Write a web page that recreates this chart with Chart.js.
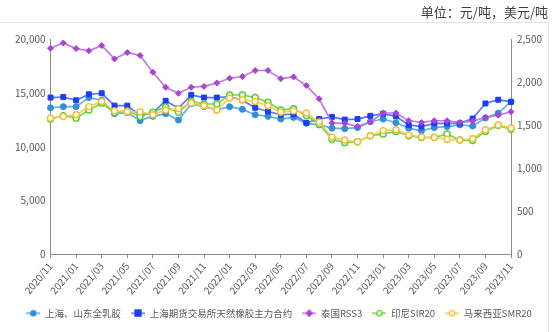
<!DOCTYPE html>
<html>
<head>
<meta charset="utf-8">
<script src="https://cdn.jsdelivr.net/npm/chart.js@4/dist/chart.umd.min.js"></script>
<style>
  html, body { margin: 0; padding: 0; background: #fff; }
  #wrap { width: 554px; height: 332px; }
</style>
</head>
<body>
<div id="wrap"><canvas id="c" width="554" height="332"></canvas></div>
<script>
// Months, 2020/11 .. 2023/11
const months = [
  '2020/11','2020/12','2021/01','2021/02','2021/03','2021/04','2021/05','2021/06','2021/07','2021/08','2021/09','2021/10',
  '2021/11','2021/12','2022/01','2022/02','2022/03','2022/04','2022/05','2022/06','2022/07','2022/08','2022/09','2022/10',
  '2022/11','2022/12','2023/01','2023/02','2023/03','2023/04','2023/05','2023/06','2023/07','2023/08','2023/09','2023/10',
  '2023/11'
];

// Domestic prices, CNY/t (left axis)
const shQuanru = [13650,13750,13750,14600,14350,13100,13200,12450,12850,13100,12500,14000,
                  13750,13450,13750,13500,13000,12850,12600,12750,12200,12050,11750,11700,
                  11800,12350,12600,12250,11750,11500,11800,11900,12050,11950,12700,13150,14200];
const shfeMain = [14600,14650,14350,14900,15000,13850,13850,12950,13200,14300,13600,14850,
                  14600,14600,14700,14350,13650,13300,13000,13050,12250,12600,12800,12550,
                  12600,12900,13100,12850,12050,11900,12200,12200,12200,12650,14050,14400,14200];

// Overseas prices, USD/t (right axis)
const thaiRSS3 = [2400,2460,2395,2370,2430,2275,2350,2315,2120,1945,1875,1945,
                  1955,1995,2050,2070,2140,2140,2045,2065,1965,1810,1530,1525,
                  1490,1540,1645,1645,1555,1535,1555,1555,1535,1550,1595,1620,1660];
const indoSIR20 = [1575,1615,1585,1680,1760,1650,1670,1605,1655,1715,1655,1780,
                   1750,1750,1855,1855,1825,1770,1680,1695,1615,1515,1340,1300,
                   1310,1380,1400,1430,1380,1360,1360,1400,1330,1325,1430,1500,1455];
const malaySMR20 = [1585,1605,1625,1720,1780,1670,1660,1660,1625,1680,1695,1760,
                    1730,1680,1820,1800,1780,1730,1655,1670,1645,1540,1365,1330,
                    1310,1380,1440,1450,1390,1365,1360,1340,1330,1345,1450,1505,1470];

const leftTicks = [0, 5000, 10000, 15000, 20000];
const rightTicks = [0, 500, 1000, 1500, 2000, 2500];

const FONT = "'Noto Sans CJK SC', 'Noto Sans', sans-serif";
const GREY = '#595959';

// Small "line + marker" swatch used as the legend symbol
function swatch(line, fill, stroke, shape) {
  const cv = document.createElement('canvas');
  cv.width = 14; cv.height = 8;
  const g = cv.getContext('2d');
  g.strokeStyle = line; g.lineWidth = 1.6;
  g.beginPath(); g.moveTo(0, 4); g.lineTo(14, 4); g.stroke();
  g.fillStyle = fill; g.strokeStyle = stroke; g.lineWidth = 1.3;
  g.beginPath();
  if (shape === 'rect') { g.rect(4, 1, 6, 6); }
  else if (shape === 'rectRot') { g.moveTo(7, 1); g.lineTo(10, 4); g.lineTo(7, 7); g.lineTo(4, 4); g.closePath(); }
  else { g.arc(7, 4, 2.6, 0, Math.PI * 2); }
  g.fill(); g.stroke();
  return cv;
}

const series = [
  { label: '上海、山东全乳胶', data: shQuanru, axis: 'y', line: 'rgba(80,160,225,0.85)', fill: '#2f8fd8', stroke: '#2f8fd8', shape: 'circle', r: 3 },
  { label: '上海期货交易所天然橡胶主力合约', data: shfeMain, axis: 'y', line: 'rgba(60,95,245,0.85)', fill: '#1e3cf4', stroke: '#1e3cf4', shape: 'rect', r: 3.5 },
  { label: '泰国RSS3', data: thaiRSS3, axis: 'y1', line: 'rgba(185,110,225,0.9)', fill: '#a945d6', stroke: '#a945d6', shape: 'rectRot', r: 3 },
  { label: '印尼SIR20', data: indoSIR20, axis: 'y1', line: 'rgba(95,215,55,0.9)', fill: '#ffffff', stroke: '#4fcf2a', shape: 'circle', r: 3 },
  { label: '马来西亚SMR20', data: malaySMR20, axis: 'y1', line: 'rgba(250,200,70,0.9)', fill: '#ffffff', stroke: '#f6bd2e', shape: 'circle', r: 3 }
];

const datasets = series.map((s, i) => ({
  label: s.label,
  data: s.data,
  yAxisID: s.axis,
  borderColor: s.line,
  borderWidth: 1.7,
  pointStyle: s.shape,
  pointRadius: s.r,
  pointBackgroundColor: s.fill,
  pointBorderColor: s.stroke,
  pointBorderWidth: s.fill === '#ffffff' ? 1.4 : 1,
  tension: 0,
  order: series.length - i,
  _swatch: swatch(s.line, s.fill, s.stroke, s.shape)
}));

// Light frame around the plot box
const framePlugin = {
  id: 'frame',
  beforeDraw(chart) {
    const ctx = chart.ctx;
    ctx.save();
    ctx.fillStyle = '#fff';
    ctx.fillRect(0, 0, chart.width, chart.height);
    ctx.strokeStyle = '#e3e3e3';
    ctx.lineWidth = 1;
    ctx.beginPath();
    ctx.moveTo(0, 22.5); ctx.lineTo(548.5, 22.5); ctx.lineTo(548.5, 332);
    ctx.stroke();
    ctx.restore();
  }
};

Chart.defaults.font.family = FONT;
Chart.defaults.color = GREY;

new Chart(document.getElementById('c'), {
  type: 'line',
  data: { labels: months, datasets },
  plugins: [framePlugin],
  options: {
    responsive: false,
    devicePixelRatio: 1,
    animation: false,
    layout: { padding: { left: 10, right: 6, top: 0, bottom: 4 } },
    plugins: {
      tooltip: { enabled: false },
      title: {
        display: true,
        text: '单位：元/吨，美元/吨',
        align: 'end',
        color: '#404040',
        font: { size: 13, weight: 'normal', family: FONT },
        padding: { top: 4, bottom: 20 }
      },
      legend: {
        position: 'bottom',
        labels: {
          usePointStyle: true,
          pointStyleWidth: 14,
          boxHeight: 8,
          padding: 10,
          color: GREY,
          font: { size: 9.5, family: FONT },
          sort: (a, b) => a.datasetIndex - b.datasetIndex,
          generateLabels(chart) {
            return chart.data.datasets.map((d, i) => ({
              text: d.label,
              pointStyle: d._swatch,
              fillStyle: d.borderColor,
              strokeStyle: d.borderColor,
              lineWidth: 0,
              hidden: false,
              datasetIndex: i,
              fontColor: GREY
            }));
          }
        }
      }
    },
    scales: {
      x: {
        type: 'category',
        offset: false,
        grid: { drawOnChartArea: false, drawTicks: true, tickLength: 4, color: '#8c8c8c' },
        border: { display: true, color: '#8c8c8c', width: 1 },
        ticks: {
          autoSkip: false,
          minRotation: 50,
          maxRotation: 50,
          padding: 2,
          font: { size: 10 },
          color: GREY,
          callback(val, idx) { return idx % 2 === 0 ? months[idx] : null; }
        }
      },
      y: {
        position: 'left',
        min: leftTicks[0],
        max: leftTicks[leftTicks.length - 1],
        afterBuildTicks(scale) { scale.ticks = leftTicks.map(v => ({ value: v })); },
        grid: { drawOnChartArea: false, drawTicks: false },
        border: { display: true, color: '#8c8c8c', width: 1 },
        ticks: { padding: 5, font: { size: 10 }, color: GREY }
      },
      y1: {
        position: 'right',
        min: rightTicks[0],
        max: rightTicks[rightTicks.length - 1],
        afterBuildTicks(scale) { scale.ticks = rightTicks.map(v => ({ value: v })); },
        grid: { drawOnChartArea: false, drawTicks: false },
        border: { display: true, color: '#8c8c8c', width: 1 },
        ticks: { padding: 6, font: { size: 10 }, color: GREY }
      }
    }
  }
});
</script>
</body>
</html>
